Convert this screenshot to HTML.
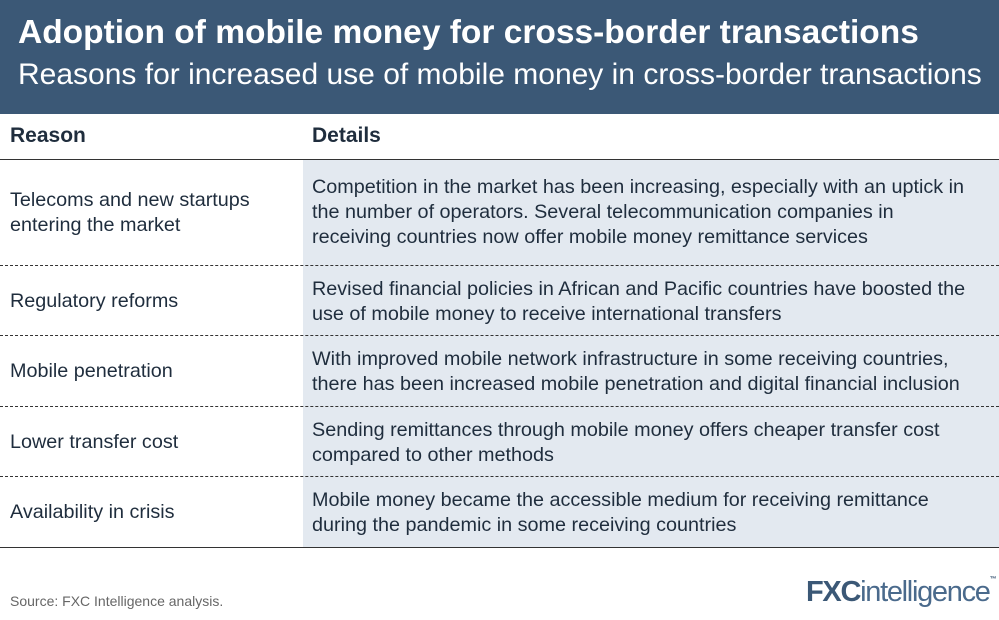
<!DOCTYPE html><html><head><style>
body{margin:0;width:999px;height:620px;background:#fff;font-family:"Liberation Sans",sans-serif;color:#1f2d3d;position:relative;overflow:hidden}
.hd{position:absolute;left:0;top:0;width:999px;height:114px;background:#3b5876;color:#fff}
.t1{position:absolute;left:18px;top:14px;font-size:33.5px;font-weight:bold;white-space:nowrap}
.t2{position:absolute;left:18px;top:58px;font-size:30px;white-space:nowrap}
.th{position:absolute;top:124px;font-size:21px;font-weight:bold}
.bg{position:absolute;left:303px;top:160px;width:696px;height:387px;background:#e3e9f0}
.ln{position:absolute;left:0;width:999px;border-top:1px dashed #333}
.r{position:absolute;left:10px;font-size:19.8px;line-height:25px;white-space:nowrap}
.d{position:absolute;left:312px;font-size:19.8px;line-height:25px;white-space:nowrap}
</style></head><body>
<div class="hd"><div class="t1">Adoption of mobile money for cross-border transactions</div><div class="t2">Reasons for increased use of mobile money in cross-border transactions</div></div>
<div class="th" style="left:10px">Reason</div><div class="th" style="left:312px">Details</div>
<div class="bg"></div>
<div class="ln" style="top:159px;border-top:1px solid #333"></div>
<div class="ln" style="top:265px"></div>
<div class="ln" style="top:335px"></div>
<div class="ln" style="top:406px"></div>
<div class="ln" style="top:476px"></div>
<div class="ln" style="top:547px;border-top:1px solid #333"></div>
<div class="r" style="top:188px">Telecoms and new startups<br>entering the market</div>
<div class="d" style="top:175px">Competition in the market has been increasing, especially with an uptick in<br>the number of operators. Several telecommunication companies in<br>receiving countries now offer mobile money remittance services</div>
<div class="r" style="top:289px">Regulatory reforms</div>
<div class="d" style="top:277px">Revised financial policies in African and Pacific countries have boosted the<br>use of mobile money to receive international transfers</div>
<div class="r" style="top:359px">Mobile penetration</div>
<div class="d" style="top:347px">With improved mobile network infrastructure in some receiving countries,<br>there has been increased mobile penetration and digital financial inclusion</div>
<div class="r" style="top:430px">Lower transfer cost</div>
<div class="d" style="top:418px">Sending remittances through mobile money offers cheaper transfer cost<br>compared to other methods</div>
<div class="r" style="top:500px">Availability in crisis</div>
<div class="d" style="top:488px">Mobile money became the accessible medium for receiving remittance<br>during the pandemic in some receiving countries</div>
<div style="position:absolute;left:10px;top:593px;font-size:14px;color:#666">Source: FXC Intelligence analysis.</div>
<div style="position:absolute;left:806px;top:576px;font-size:29px;font-weight:bold;color:#3b5876;letter-spacing:-1.3px;white-space:nowrap">FXC<span style="font-weight:normal;color:#4a6a8c">intelligence</span><span style="font-size:7px;vertical-align:top">™</span></div>
</body></html>
